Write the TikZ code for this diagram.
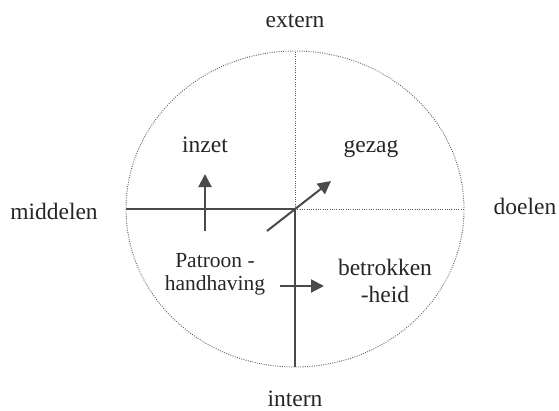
\documentclass[tikz,border=0pt]{standalone}
\usepackage{fontspec}
\setmainfont{Liberation Serif}
\usetikzlibrary{arrows.meta}
\definecolor{ln}{HTML}{4A4A4A}
\definecolor{dt}{HTML}{5A5A5A}
\begin{document}
\begin{tikzpicture}[x=1pt,y=-1pt,
  lbl/.style={anchor=base,inner sep=0pt,text=black!85,font=\fontsize{23.5}{26}\selectfont},
  slbl/.style={anchor=base,inner sep=0pt,text=black!85,font=\fontsize{21.5}{24}\selectfont},
  dotline/.style={draw=dt,line width=0.9pt,dash pattern=on 0.9pt off 1.4pt},
  solidline/.style={draw=ln,line width=2pt},
  arr/.style={draw=ln,line width=2pt,-{Triangle[length=13pt,width=13pt]}}]
\useasboundingbox (0,0) rectangle (559,410);
\coordinate (c) at (295,209);
\coordinate (top) at (295,51);
\coordinate (bot) at (295,367);
\coordinate (lft) at (126,209);
\coordinate (rgt) at (464,209);
\draw[dotline] (c) ellipse [x radius=169, y radius=158];
\draw[dotline] (c) -- (top);
\draw[dotline] (c) -- (rgt);
\draw[solidline] (lft) -- (c) -- (bot);
% arrows
\coordinate (a1s) at (205,231);
\coordinate (a1e) at (205,174);
\coordinate (a2s) at (267,231);
\coordinate (a2e) at (331,181);
\coordinate (a3s) at (280,286);
\coordinate (a3e) at (324,286);
\draw[arr] (a1s) -- (a1e);
\draw[arr] (a2s) -- (a2e);
\draw[arr] (a3s) -- (a3e);
% labels
\node[lbl] (extern) at (295,27) {extern};
\node[lbl] (intern) at (295,406) {intern};
\node[lbl] (middelen) at (54,219) {middelen};
\node[lbl] (doelen) at (525,214) {doelen};
\node[lbl] (inzet) at (205,152) {inzet};
\node[lbl] (gezag) at (371,152) {gezag};
\node[slbl] (patroon) at (215,267) {Patroon -};
\node[slbl] (handhaving) at (215,290) {handhaving};
\node[lbl] (betrokken) at (385,275) {betrokken};
\node[lbl] (heid) at (385,302) {-heid};
\end{tikzpicture}
\end{document}
